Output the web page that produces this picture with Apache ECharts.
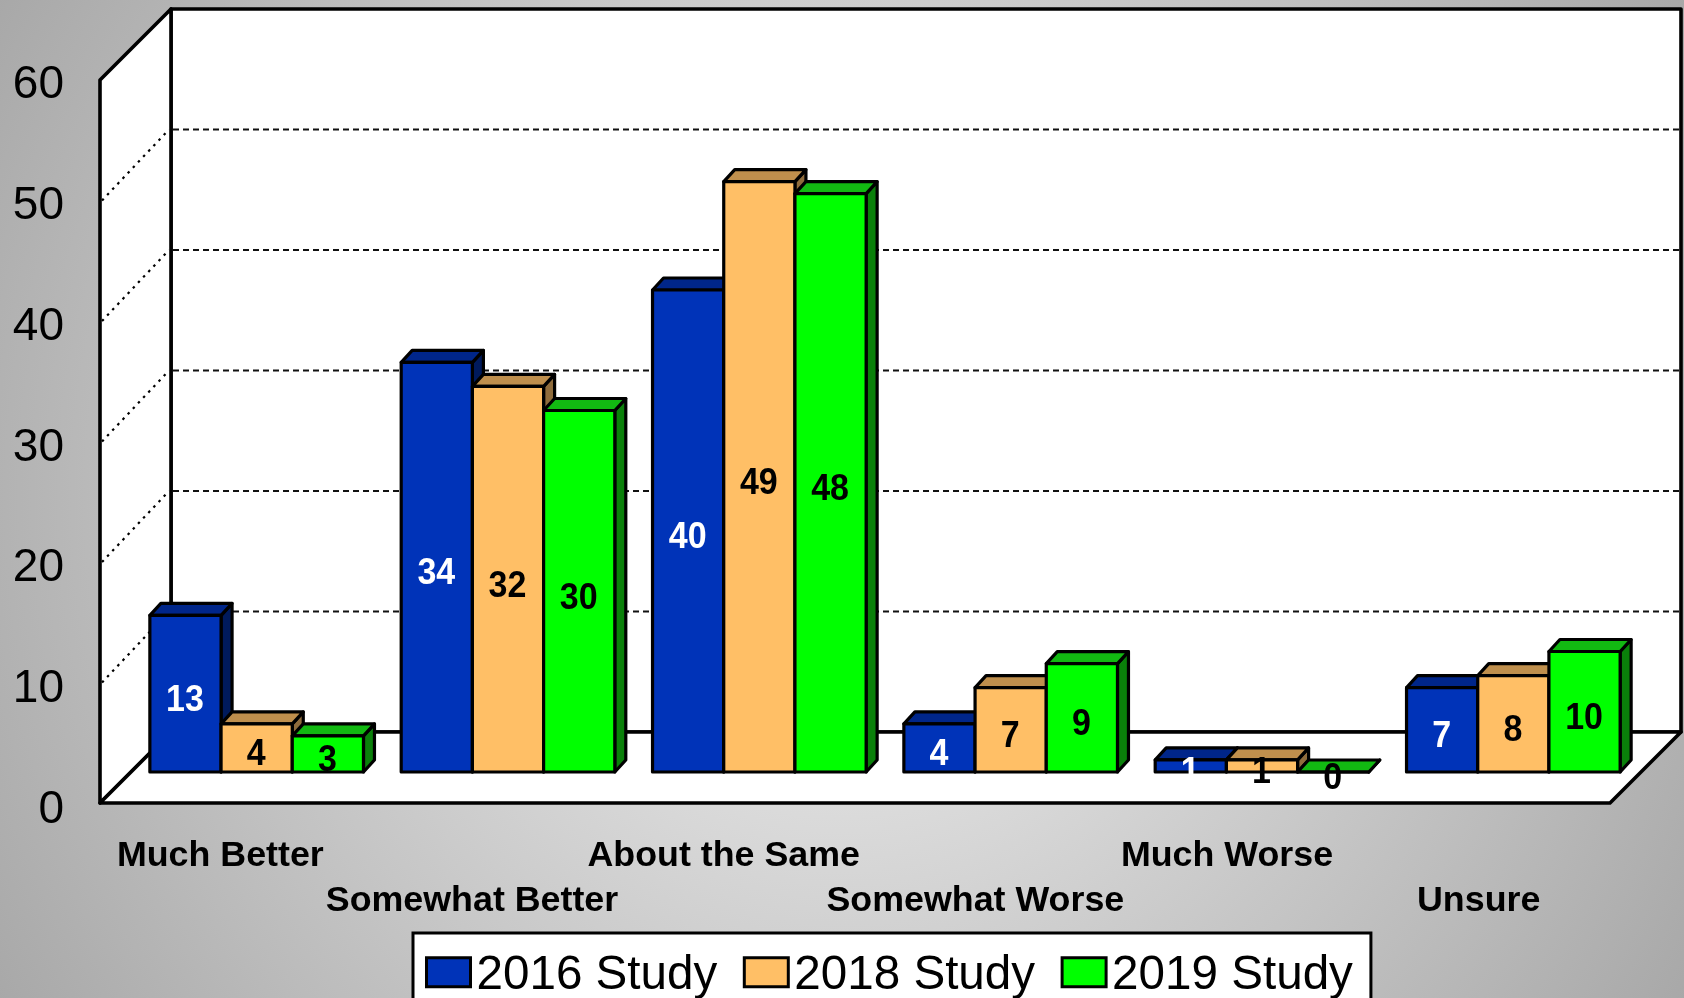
<!DOCTYPE html>
<html><head><meta charset="utf-8">
<style>html,body{margin:0;padding:0;background:#ccc}#c{width:1684px;height:998px}</style>
<script src="https://cdn.jsdelivr.net/npm/echarts@6/dist/echarts.min.js"></script>
</head><body><div id="c"></div>
<script>
const categories = ['Much Better','Somewhat Better','About the Same','Somewhat Worse','Much Worse','Unsure'];
const study2016 = [13,34,40,4,1,7];
const study2018 = [4,32,49,7,1,8];
const study2019 = [3,30,48,9,0,10];
const yTicks = [0,10,20,30,40,50,60];
const seriesNames = ['2016 Study','2018 Study','2019 Study'];

const FONT = '"Liberation Sans", Arial, sans-serif';
const WALL_DEPTH = 71, BAR_DX = 11, BAR_DY = 12, BAR_RATIO = 0.2833;
const palette = [
  {front:'#0033B8', top:'#00268A', side:'#001A5C', label:'#ffffff'},
  {front:'#FFBF66', top:'#BF8F4D', side:'#8F6C3C', label:'#000000'},
  {front:'#00FF00', top:'#12B912', side:'#0A800A', label:'#000000'}
];

function renderFrame(params, api) {
  const cs = params.coordSys, v = api.value(0);
  const x0 = cs.x, x1 = cs.x + cs.width, yb = cs.y + cs.height, yt = cs.y, D = WALL_DEPTH;
  const kids = [];
  const wall = {stroke:'#000', lineWidth:3.6, lineJoin:'round', fill:'#fff'};
  if (v === 0) {
    kids.push({type:'polygon', shape:{points:[[x0+D,yt-D],[x1+D,yt-D],[x1+D,yb-D],[x0+D,yb-D]]}, style:wall});
    kids.push({type:'polygon', shape:{points:[[x0,yb],[x0,yt],[x0+D,yt-D],[x0+D,yb-D]]}, style:wall});
    kids.push({type:'polygon', shape:{points:[[x0,yb],[x0+D,yb-D],[x1+D,yb-D],[x1,yb]]}, style:wall});
  } else if (v < yTicks[yTicks.length-1]) {
    const y = api.coord([0, v])[1];
    kids.push({type:'line', shape:{x1:x0+2, y1:y, x2:x0+D-2, y2:y-D},
      style:{stroke:'#000', lineWidth:2.2, lineDash:[2.5,5], fill:null}});
    kids.push({type:'line', shape:{x1:x0+D+2, y1:y-D, x2:x1+D-2, y2:y-D},
      style:{stroke:'#111', lineWidth:1.8, lineDash:[6,4], fill:null}});
  }
  return {type:'group', children:kids};
}

function barRenderer(seriesIndex) {
  return function (params, api) {
    const idx = api.value(0), val = api.value(1);
    const base = api.coord([idx, 0]), top = api.coord([idx, val]);
    const w = api.size([1, 0])[0] * BAR_RATIO;
    const xl = base[0] + (seriesIndex - 1.5) * w, xr = xl + w;
    const yb = base[1], yt = top[1], dx = BAR_DX, dy = BAR_DY;
    const c = palette[seriesIndex];
    const line = {stroke:'#000', lineWidth:3.2, lineJoin:'round'};
    const kids = [
      {type:'polygon', shape:{points:[[xr,yb],[xr+dx,yb-dy],[xr+dx,yt-dy],[xr,yt]]}, style:Object.assign({fill:c.side}, line)},
      {type:'polygon', shape:{points:[[xl,yt],[xl+dx,yt-dy],[xr+dx,yt-dy],[xr,yt]]}, style:Object.assign({fill:c.top}, line)},
      {type:'rect', shape:{x:xl, y:yt, width:w, height:yb-yt}, style:Object.assign({fill:c.front}, line)},
      {type:'text', x:(xl+xr)/2-0.5, y:(yt+yb)/2+7, scaleY:1.1,
       style:{text:String(val), x:0, y:0, align:'center', verticalAlign:'middle', fill:c.label, font:'bold 34px '+FONT}}
    ];
    return {type:'group', children:kids};
  };
}

const chart = echarts.init(document.getElementById('c'), null, {renderer:'canvas', width:1684, height:998});
const hiddenAxis = {show:false, axisLine:{show:false}, axisTick:{show:false}, splitLine:{show:false}};
const tableOf = (vals) => vals.map((v,i)=>[i,v]);

chart.setOption({
  animation:false,
  backgroundColor:{type:'radial', x:0.5, y:0.5, r:0.984,
    colorStops:[{offset:0,color:'#f2f2f2'},{offset:1,color:'#a8a8a8'}]},
  grid:[
    {left:100, top:80, width:1510, height:723, containLabel:false},
    {left:131, top:49, width:1508, height:723, containLabel:false},
    {left:100, top:85.4, width:1510, height:725, containLabel:false}
  ],
  xAxis:[
    {type:'category', gridIndex:0, data:categories, axisLine:{show:false}, axisTick:{show:false}, splitLine:{show:false},
     axisLabel:{interval:0, margin:31, color:'#000', fontFamily:FONT, fontWeight:'bold', fontSize:35.8, lineHeight:45,
       verticalAlign:'top', hideOverlap:false, padding:[0,11,0,0],
       formatter:(name,i)=> i%2 ? '\n'+name : name}},
    Object.assign({type:'category', gridIndex:1, data:categories}, hiddenAxis),
    Object.assign({type:'category', gridIndex:2, data:categories}, hiddenAxis)
  ],
  yAxis:[
    Object.assign({type:'value', gridIndex:0, min:0, max:60, interval:10}, hiddenAxis),
    Object.assign({type:'value', gridIndex:1, min:0, max:60, interval:10}, hiddenAxis),
    {type:'value', gridIndex:2, min:0, max:60, interval:10, axisLine:{show:false}, axisTick:{show:false}, splitLine:{show:false},
     axisLabel:{margin:36, color:'#000', fontFamily:FONT, fontSize:46, showMinLabel:true, showMaxLabel:true,
       hideOverlap:false, formatter:(v)=> yTicks.includes(v) ? String(v) : ''}}
  ],
  legend:{
    show:true, left:413, top:933, orient:'horizontal', data:seriesNames,
    backgroundColor:'#fff', borderColor:'#000', borderWidth:3, borderRadius:0,
    padding:[19,18,30,12], itemGap:25.5, itemWidth:44, itemHeight:36.6,
    icon:'path://M0 0H44V29H0Z M0 36.6L0 36.6',
    itemStyle:{borderColor:'#000', borderWidth:3},
    textStyle:{color:'#000', fontFamily:FONT, fontSize:47.6, padding:[0,0,0,1]}
  },
  series:[
    {type:'custom', name:'frame', xAxisIndex:0, yAxisIndex:0, clip:false, z:1, silent:true,
     data:yTicks.map(v=>[v]), encode:{y:0}, renderItem:renderFrame},
    {type:'custom', name:seriesNames[0], xAxisIndex:1, yAxisIndex:1, clip:false, z:2, itemStyle:{color:palette[0].front},
     data:tableOf(study2016), encode:{x:0,y:1}, renderItem:barRenderer(0)},
    {type:'custom', name:seriesNames[1], xAxisIndex:1, yAxisIndex:1, clip:false, z:3, itemStyle:{color:palette[1].front},
     data:tableOf(study2018), encode:{x:0,y:1}, renderItem:barRenderer(1)},
    {type:'custom', name:seriesNames[2], xAxisIndex:1, yAxisIndex:1, clip:false, z:4, itemStyle:{color:palette[2].front},
     data:tableOf(study2019), encode:{x:0,y:1}, renderItem:barRenderer(2)}
  ]
});
</script></body></html>
